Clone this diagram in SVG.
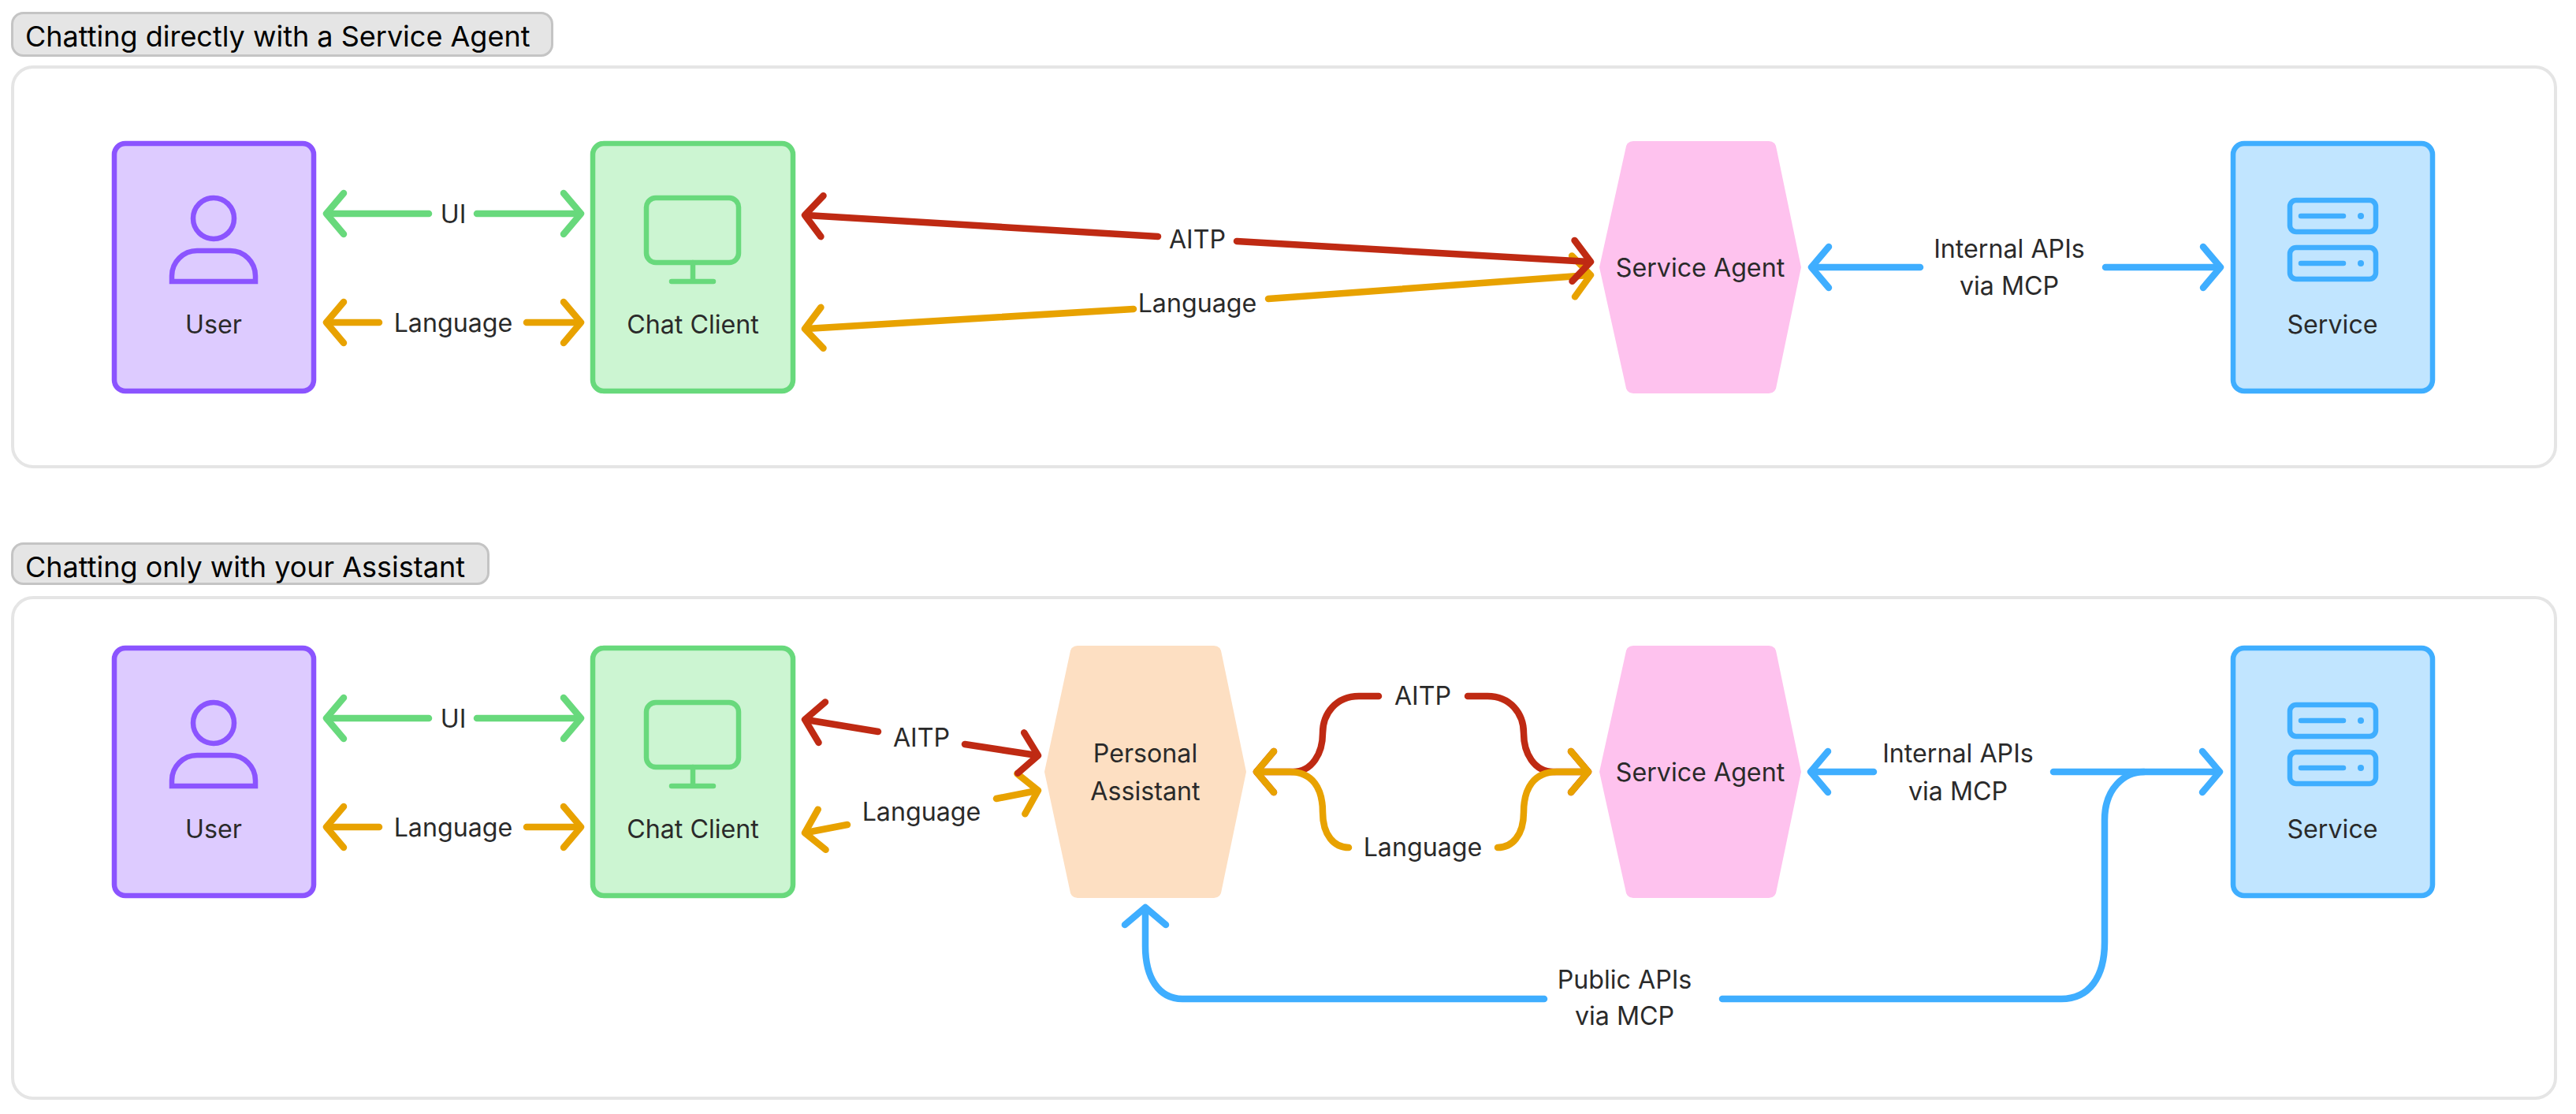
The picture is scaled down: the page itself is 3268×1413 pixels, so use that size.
<svg xmlns="http://www.w3.org/2000/svg" width="3268" height="1413" viewBox="0 0 3268 1413">
<defs>
<marker id="mg" markerUnits="userSpaceOnUse" markerWidth="80" markerHeight="80" refX="38" refY="40" orient="auto" viewBox="0 0 80 80"><path d="M18 14L40 40L18 66" fill="none" stroke="#68d97c" stroke-width="8.500" stroke-linecap="round" stroke-linejoin="round"/></marker>
<marker id="ma" markerUnits="userSpaceOnUse" markerWidth="80" markerHeight="80" refX="38" refY="40" orient="auto" viewBox="0 0 80 80"><path d="M18 14L40 40L18 66" fill="none" stroke="#e8a200" stroke-width="8.500" stroke-linecap="round" stroke-linejoin="round"/></marker>
<marker id="mr" markerUnits="userSpaceOnUse" markerWidth="80" markerHeight="80" refX="38" refY="40" orient="auto" viewBox="0 0 80 80"><path d="M18 14L40 40L18 66" fill="none" stroke="#bf2a13" stroke-width="8.500" stroke-linecap="round" stroke-linejoin="round"/></marker>
<marker id="mb" markerUnits="userSpaceOnUse" markerWidth="80" markerHeight="80" refX="38" refY="40" orient="auto" viewBox="0 0 80 80"><path d="M18 14L40 40L18 66" fill="none" stroke="#3faeff" stroke-width="8.500" stroke-linecap="round" stroke-linejoin="round"/></marker>
</defs>
<style>
text{font-family:Inter,"Liberation Sans",sans-serif;font-size:32.200px;font-weight:400;fill:#2a2a2a;text-anchor:middle}
.title{font-size:36px;font-weight:400;fill:#000;text-anchor:start}
.panel{fill:#fff;stroke:#e5e5e5;stroke-width:4}
.tag{fill:#e5e5e5;stroke:#c4c4c4;stroke-width:3}
.box{stroke-width:6.500}
.u{fill:#ddcbff;stroke:#8b54ff}
.c{fill:#ccf5d2;stroke:#68d97c}
.s{fill:#c1e5ff;stroke:#3faeff}
.iu,.ic,.is{fill:none;stroke-width:6.500;stroke-linecap:round}
.iu{stroke:#8b54ff;stroke-linecap:butt}.ic{stroke:#68d97c}.is{stroke:#3faeff}
.dot{fill:#3faeff}
.l{fill:none;stroke-width:8.500;stroke-linecap:round}
.g{stroke:#68d97c;marker-end:url(#mg)}
.a{stroke:#e8a200;marker-end:url(#ma)}
.r{stroke:#bf2a13;marker-end:url(#mr)}
.b{stroke:#3faeff;marker-end:url(#mb)}
.bn{stroke:#3faeff}
.pink{fill:#fec2ee}.peach{fill:#fddfc2}
</style>
<g id="panel-1"><rect class="panel" x="16" y="85" width="3226" height="507" rx="26"/></g>
<g id="title-1"><rect class="tag" x="15.500" y="16.500" width="685" height="54" rx="14"/><text class="title" x="32" y="59">Chatting directly with a Service Agent</text></g>
<g id="panel-2"><rect class="panel" x="16" y="758" width="3226" height="635" rx="26"/></g>
<g id="title-2"><rect class="tag" x="15.500" y="689.500" width="604" height="51" rx="14"/><text class="title" x="32" y="732">Chatting only with your Assistant</text></g>

<g id="connectors">
<path class="l g" d="M544 271H416"/><path class="l g" d="M605 271H735"/>
<path class="l a" d="M481 409H416"/><path class="l a" d="M668 409H735"/>
<path class="l a" d="M1438 392L1023 417"/><path class="l a" d="M1609 379L2016 349"/>
<path class="l r" d="M1469 300L1023 273"/><path class="l r" d="M1569 306L2016 332"/>
<path class="l b" d="M2436 339H2300"/><path class="l b" d="M2671 339H2815"/>

<path class="l g" d="M544 911H416"/><path class="l g" d="M605 911H735"/>
<path class="l a" d="M481 1049H416"/><path class="l a" d="M668 1049H735"/>
<path class="l a" d="M1075 1046L1023 1056"/><path class="l a" d="M1264 1013L1315 1003"/>
<path class="l r" d="M1114 928L1023 913"/><path class="l r" d="M1224 944L1315 958"/>
<path class="l r" d="M1749 883H1724C1695 883 1678 905 1678 930C1678 955 1665 979 1640 979H1596"/>
<path class="l r" d="M1862 883H1887C1916 883 1933 905 1933 930C1933 955 1946 979 1971 979H2013"/>
<path class="l a" d="M1711 1075C1693 1075 1678 1060 1678 1030C1678 1000 1665 979 1636 979H1596"/>
<path class="l a" d="M1900 1075C1918 1075 1933 1060 1933 1030C1933 1000 1946 979 1975 979H2013"/>
<path class="l b" d="M2377 979H2299"/><path class="l b" d="M2605 979H2814"/>
<path class="l bn" d="M2185 1267H2615C2650 1267 2670 1240 2670 1195V1040C2670 1000 2695 979 2720 979"/>
<path class="l b" d="M1959 1267H1500C1470 1267 1453 1240 1453 1200V1153"/>
</g>

<g id="user-1"><rect class="box u" x="145" y="182" width="253" height="314" rx="14"/><circle class="iu" cx="271" cy="277" r="26"/><path class="iu" d="M218 357V350A32 32 0 0 1 250 318H292A32 32 0 0 1 324 350V357Z"/><text x="271" y="423">User</text></g>
<g id="client-1"><rect class="box c" x="752" y="182" width="254" height="314" rx="14"/><rect class="ic" x="820" y="251" width="117" height="82" rx="12"/><path class="ic" d="M879 333V357M852 357H905"/><text x="879" y="423">Chat Client</text></g>
<g id="agent-1"><path class="pink" d="M2072 179H2244Q2253 179 2254 190L2285 339L2254 488Q2253 499 2244 499H2072Q2063 499 2062 488L2029 339L2062 190Q2063 179 2072 179Z"/><text x="2157" y="351">Service Agent</text></g>
<g id="service-1"><rect class="box s" x="2833" y="182" width="253" height="314" rx="14"/><rect class="is" x="2905" y="254" width="109" height="40" rx="8"/><rect class="is" x="2905" y="314" width="109" height="40" rx="8"/><path class="is" d="M2919 274H2973M2919 334H2973"/><circle class="dot" cx="2995" cy="274" r="4"/><circle class="dot" cx="2995" cy="334" r="4"/><text x="2959" y="423">Service</text></g>

<g id="user-2"><rect class="box u" x="145" y="822" width="253" height="314" rx="14"/><circle class="iu" cx="271" cy="917" r="26"/><path class="iu" d="M218 997V990A32 32 0 0 1 250 958H292A32 32 0 0 1 324 990V997Z"/><text x="271" y="1063">User</text></g>
<g id="client-2"><rect class="box c" x="752" y="822" width="254" height="314" rx="14"/><rect class="ic" x="820" y="891" width="117" height="82" rx="12"/><path class="ic" d="M879 973V997M852 997H905"/><text x="879" y="1063">Chat Client</text></g>
<g id="assistant"><path class="peach" d="M1367 819H1540Q1549 819 1550 830L1581 979L1550 1128Q1549 1139 1540 1139H1367Q1358 1139 1357 1128L1325 979L1357 830Q1358 819 1367 819Z"/><text x="1453" y="967">Personal</text><text x="1453" y="1015">Assistant</text></g>
<g id="agent-2"><path class="pink" d="M2072 819H2244Q2253 819 2254 830L2285 979L2254 1128Q2253 1139 2244 1139H2072Q2063 1139 2062 1128L2029 979L2062 830Q2063 819 2072 819Z"/><text x="2157" y="991">Service Agent</text></g>
<g id="service-2"><rect class="box s" x="2833" y="822" width="253" height="314" rx="14"/><rect class="is" x="2905" y="894" width="109" height="40" rx="8"/><rect class="is" x="2905" y="954" width="109" height="40" rx="8"/><path class="is" d="M2919 914H2973M2919 974H2973"/><circle class="dot" cx="2995" cy="914" r="4"/><circle class="dot" cx="2995" cy="974" r="4"/><text x="2959" y="1063">Service</text></g>

<g id="labels">
<text x="575" y="283">UI</text><text x="575" y="421">Language</text>
<text x="1519" y="315">AITP</text><text x="1519" y="396">Language</text>
<text x="2549" y="327">Internal APIs</text><text x="2549" y="374">via MCP</text>
<text x="575" y="923">UI</text><text x="575" y="1061">Language</text>
<text x="1169" y="947">AITP</text><text x="1169" y="1041">Language</text>
<text x="1805" y="894">AITP</text><text x="1805" y="1086">Language</text>
<text x="2484" y="967">Internal APIs</text><text x="2484" y="1015">via MCP</text>
<text x="2061" y="1254">Public APIs</text><text x="2061" y="1300">via MCP</text>
</g>
</svg>
